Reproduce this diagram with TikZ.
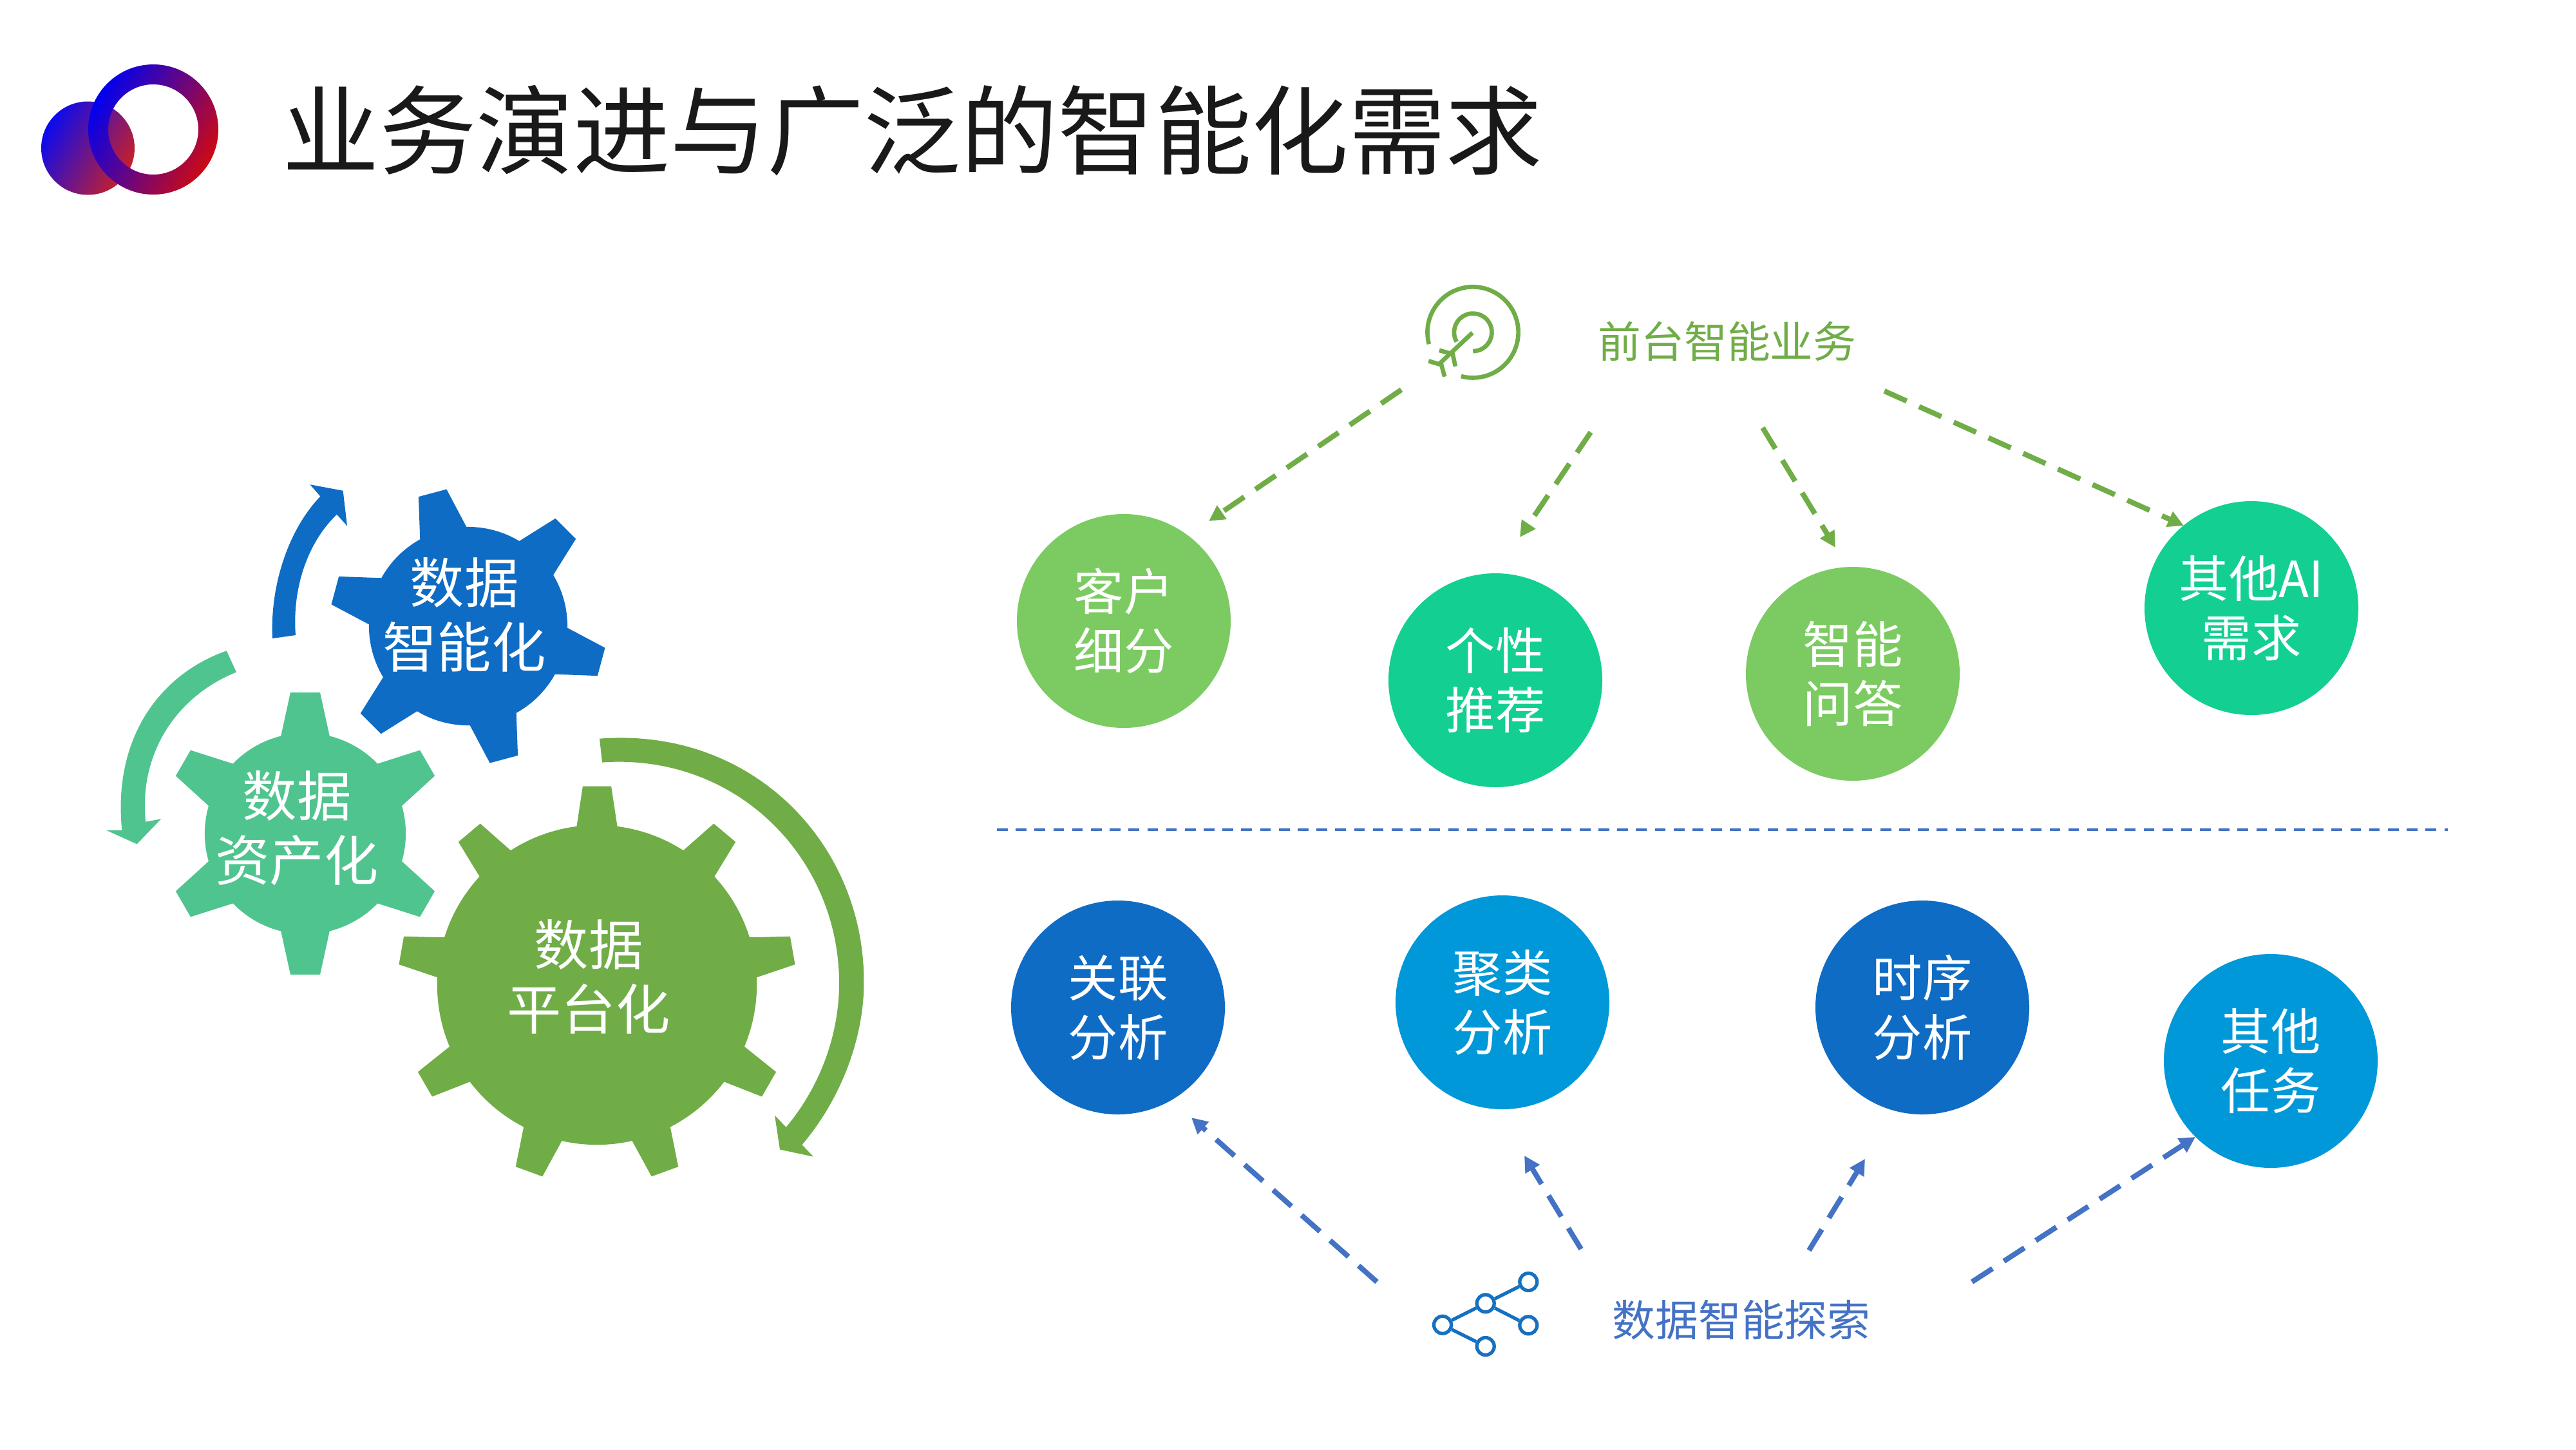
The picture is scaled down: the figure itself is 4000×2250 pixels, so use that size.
\documentclass[tikz,border=0pt]{standalone}
\usepackage{fontspec}
\setmainfont{Noto Sans CJK SC}
\usetikzlibrary{arrows.meta,calc}
\definecolor{cGreen}{HTML}{70AD47}
\definecolor{cLime}{HTML}{7CCB62}
\definecolor{cTeal}{HTML}{14CF92}
\definecolor{cBlue}{HTML}{0F6CC4}
\definecolor{cCyan}{HTML}{0098D8}
\definecolor{cMint}{HTML}{50C48F}
\definecolor{cSlate}{HTML}{4472C4}
\definecolor{cNet}{HTML}{1670C0}
\definecolor{logoA}{HTML}{0A0AF0}
\definecolor{logoB}{HTML}{C82028}
\definecolor{logoC}{HTML}{0000F0}
\definecolor{logoD}{HTML}{CC0A14}
\tikzset{
  ball/.style={circle,minimum size=332*0.01cm,inner sep=0pt,text=white,align=center,font=\fontsize{22}{26.2}\selectfont},
  gearlabel/.style={text=white,align=center,inner sep=0pt,font=\fontsize{24}{28.4}\selectfont},
  sidelabel/.style={inner sep=0pt,font=\fontsize{19}{23}\selectfont},
  grn/.style={draw=cGreen,line width=2.3pt,dash pattern=on 10.8pt off 6pt,-{Triangle[length=7pt,width=7pt]}},
  blu/.style={draw=cSlate,line width=2.3pt,dash pattern=on 10.8pt off 6pt,-{Triangle[length=7pt,width=7pt]}},
  netdot/.style={circle,draw=cNet,fill=white,line width=1.5pt,minimum size=27*0.01cm,inner sep=0pt},
  netline/.style={draw=cNet,line width=1.5pt},
  targ/.style={draw=cGreen,line width=1.9pt},
  zoomed/.style={shift={(127,719)},x=0.008cm,y=-0.00737cm}
}
% #1 colour, #2 cx, #3 cy, #4 teeth, #5 rotation, #6 r, #7 R, #8 base half angle, #9 tip half angle
\newcommand{\gearshape}[9]{%
  \pgfmathsetmacro\rp{#6*0.28453}\pgfmathsetmacro\Rp{#7*0.28453}%
  \pgfmathsetmacro\stp{360/#4}\pgfmathsetmacro\lastk{#4-1}%
  \begin{scope}[shift={(#2,#3)}]
  \fill[#1] (#5-#8:\rp pt)
    \foreach \k in {0,...,\lastk}{
      \pgfextra{\pgfmathsetmacro\aa{#5+\k*\stp}\pgfmathsetmacro\ab{\aa-#9}\pgfmathsetmacro\ac{\aa+#9}\pgfmathsetmacro\ad{\aa+#8}\pgfmathsetmacro\ae{\aa+\stp-#8}}
      -- (\ab:\Rp pt) -- (\ac:\Rp pt) -- (\ad:\rp pt) arc[start angle=\ad,end angle=\ae,radius=\rp pt]
    } -- cycle;
  \end{scope}}
\begin{document}
\begin{tikzpicture}[x=0.01cm,y=-0.01cm]
\useasboundingbox (0,0) rectangle (4000,2250);
\fill[white] (0,0) rectangle (4000,2250);
% logo
\shade[left color=logoA,right color=logoB,shading angle=60] (136.5,230) circle[radius=72.5];
\shade[even odd rule,left color=logoC,right color=logoD,shading angle=60] (238,201) circle[radius=101] (238,201) circle[radius=70];
% title
\node[anchor=west,inner sep=0pt,text=black!90,font=\fontsize{42.8}{50}\selectfont] (title) at (438,203) {业务演进与广泛的智能化需求};
% gears
\gearshape{cBlue}{727}{972}{6}{45}{154}{215}{14}{6}
\gearshape{cMint}{474}{1294}{6}{30}{156}{220}{14}{6}
\gearshape{cGreen}{927}{1529}{9}{10}{248}{309}{7.3}{4.1}
\node[gearlabel] (gb) at (721,954) {数据\\智能化};
\node[gearlabel] (gm) at (461,1286) {数据\\资产化};
\node[gearlabel] (gg) at (914,1516) {数据\\平台化};
% curved arrows
\begin{scope}[zoomed]
\fill[cBlue] (370,369) .. controls (365,250) and (405,135) .. (463,70) -- (443,45) -- (507,58) -- (515,132) -- (495,108) .. controls (440,165) and (408,260) .. (415,362) -- cycle;
\fill[cMint] (281,395) .. controls (150,445) and (60,580) .. (78,773) -- (48,773) -- (107,802) -- (154,749) -- (124,755) .. controls (110,610) and (185,490) .. (300,440) -- cycle;
\fill[cGreen] (1005,580) .. controls (1300,555) and (1520,800) .. (1518,1095) .. controls (1518,1200) and (1480,1330) .. (1398,1435) -- (1420,1460) -- (1355,1445) -- (1345,1373) -- (1367,1398) .. controls (1435,1310) and (1470,1200) .. (1470,1095) .. controls (1470,830) and (1270,610) .. (1010,630) -- cycle;
\end{scope}
% target icon
\begin{scope}[shift={(2150,420)},x=0.00333cm,y=-0.00333cm]
\draw[targ] (207,343) arc[start angle=195,end angle=-105,radius=0.00333*212cm];
\draw[targ] (336,332) arc[start angle=210,end angle=-90,radius=0.00333*88cm];
\draw[targ] (410,290) -- (250,440);
\draw[targ] (255,372) -- (318,390) -- (330,447);
\draw[targ] (205,422) -- (265,440) -- (280,495);
\end{scope}
\node[sidelabel,text=cGreen] (front) at (2682,530) {前台智能业务};
\node[sidelabel,text=cSlate] (explore) at (2704,2049) {数据智能探索};
% network icon
\begin{scope}[shift={(2180,1940)}]
\node[netdot] (n1) at (60,116.7) {};
\node[netdot] (n2) at (126.7,83.3) {};
\node[netdot] (n3) at (193.3,50) {};
\node[netdot] (n4) at (193.3,117.3) {};
\node[netdot] (n5) at (126.7,150) {};
\draw[netline] (n1)--(n2) (n2)--(n3) (n2)--(n4) (n1)--(n5);
\end{scope}
% balls
\node[ball,fill=cLime] (b1) at (1745,964) {客户\\细分};
\node[ball,fill=cTeal] (b2) at (2322,1056) {个性\\推荐};
\node[ball,fill=cLime] (b3) at (2877,1046) {智能\\问答};
\node[ball,fill=cTeal] (b4) at (3496,944) {其他AI\\需求};
\node[ball,fill=cBlue] (c1) at (1736,1564) {关联\\分析};
\node[ball,fill=cCyan] (c2) at (2333,1556) {聚类\\分析};
\node[ball,fill=cBlue] (c3) at (2985,1564) {时序\\分析};
\node[ball,fill=cCyan] (c4) at (3526,1647) {其他\\任务};
% connector ends
\coordinate (s1) at (2176,605); \coordinate (e1) at (1877,809);
\coordinate (s2) at (2470,671); \coordinate (e2) at (2360,834);
\coordinate (s3) at (2737,664); \coordinate (e3) at (2850,850);
\coordinate (s4) at (2926,607); \coordinate (e4) at (3391,816);
\coordinate (t1) at (2138,1990); \coordinate (u1) at (1850,1735);
\coordinate (t2) at (2455,1939); \coordinate (u2) at (2367,1794);
\coordinate (t3) at (2809,1941); \coordinate (u3) at (2896,1799);
\coordinate (t4) at (3062,1990); \coordinate (u4) at (3409,1765);
\draw[grn] (s1)--(e1); \draw[grn] (s2)--(e2); \draw[grn] (s3)--(e3); \draw[grn] (s4)--(e4);
\draw[blu] (t1)--(u1); \draw[blu] (t2)--(u2); \draw[blu] (t3)--(u3); \draw[blu] (t4)--(u4);
% divider
\coordinate (d1) at (1548,1288); \coordinate (d2) at (3801,1288);
\draw[cSlate,line width=1.2pt,dash pattern=on 4.75pt off 3.55pt] (d1)--(d2);
\end{tikzpicture}
\end{document}
